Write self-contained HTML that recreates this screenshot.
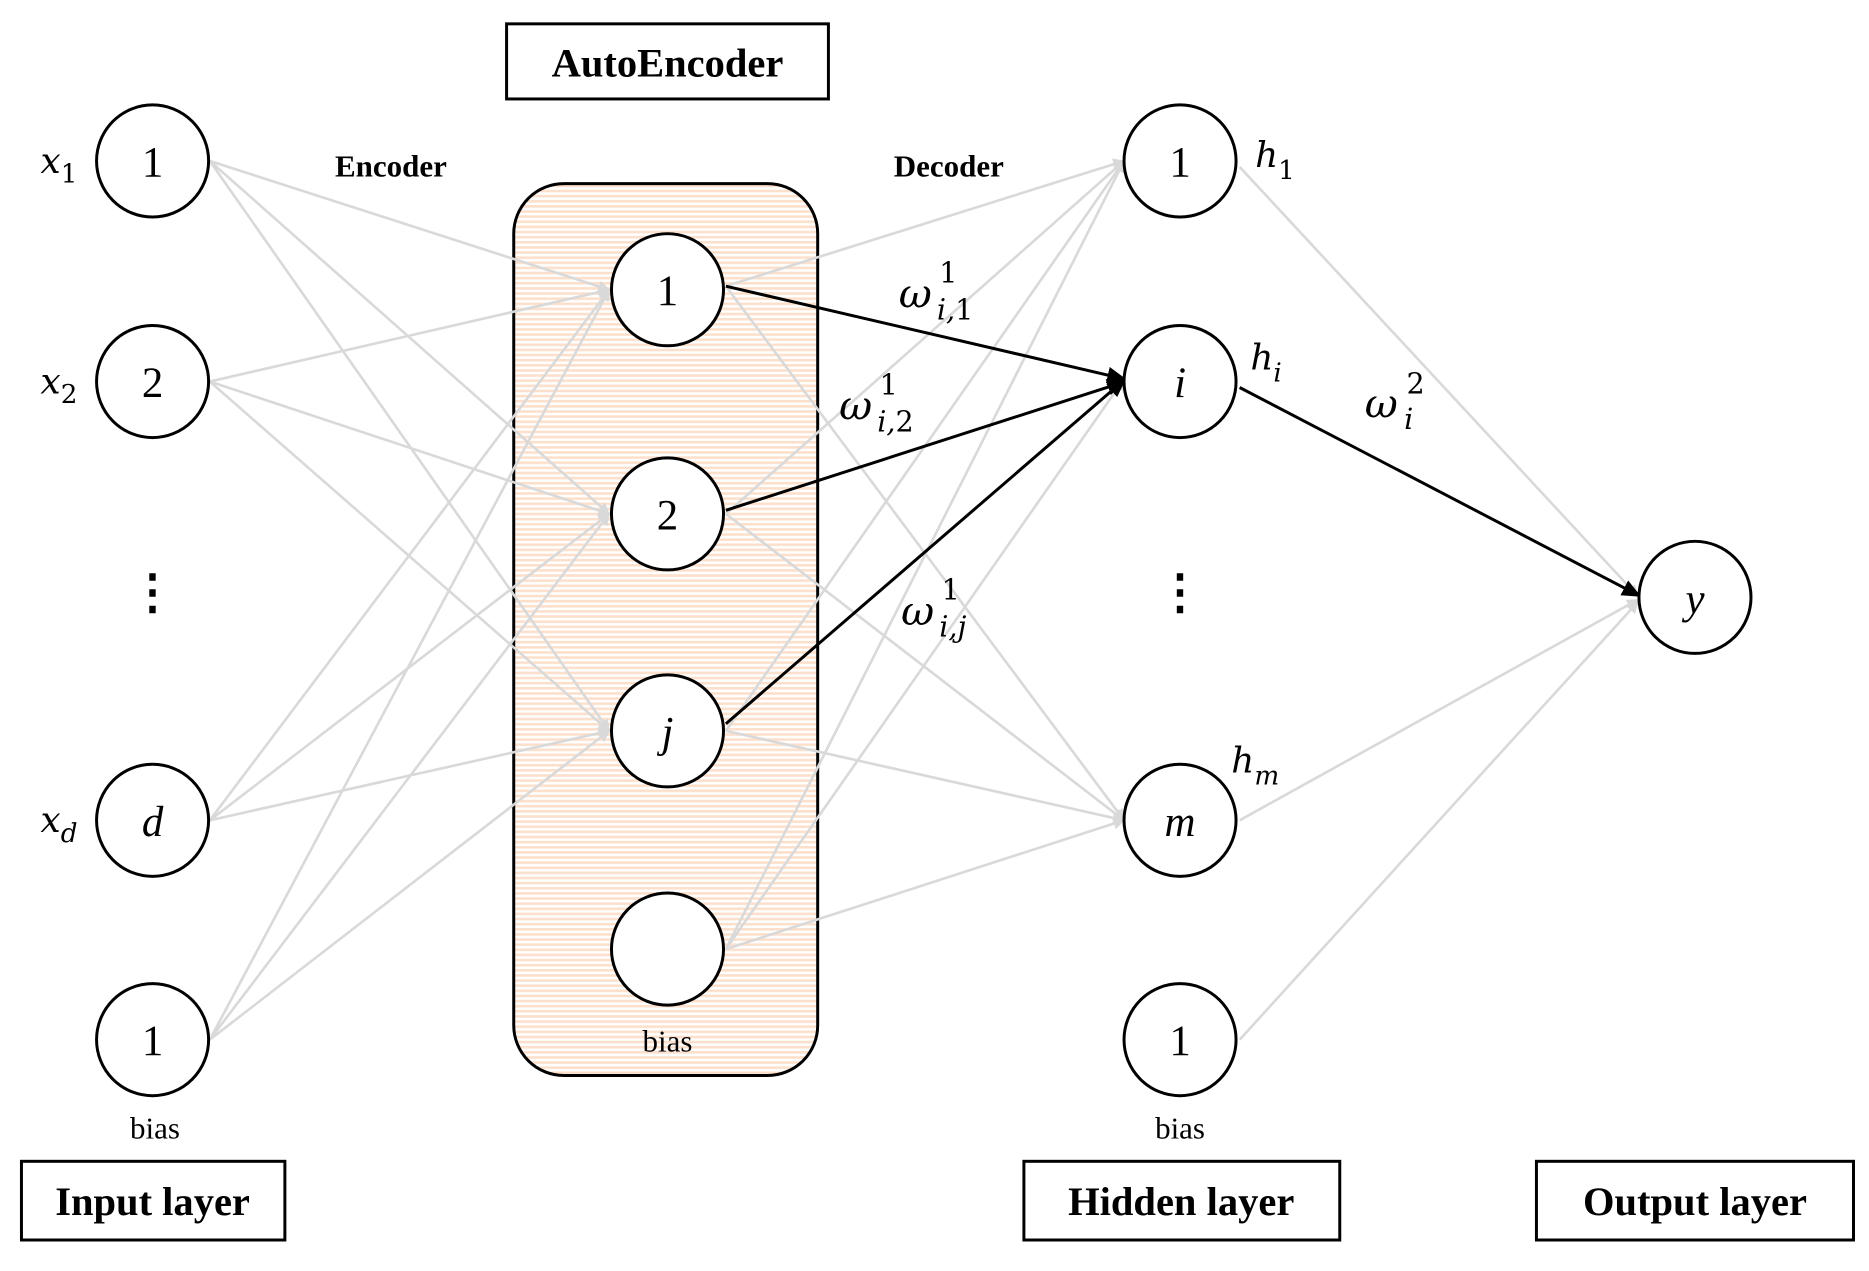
<!DOCTYPE html>
<html><head><meta charset="utf-8"><style>
html,body{margin:0;padding:0;background:#fff;}
svg{display:block;}
</style></head><body>
<svg width="1869" height="1271" viewBox="0 0 1568 1066" preserveAspectRatio="none" xmlns="http://www.w3.org/2000/svg">
<defs>
<pattern id="st" width="10" height="4.3" patternUnits="userSpaceOnUse">
<rect width="10" height="4.3" fill="#fff"/>
<rect width="10" height="2.2" fill="#fde0cc"/>
</pattern>
<marker id="ag" markerWidth="10" markerHeight="10" refX="9" refY="5" orient="auto" markerUnits="userSpaceOnUse" viewBox="0 0 10 10">
<path d="M0,0 L10,5 L0,10 z" fill="#d9d9d9"/></marker>
<marker id="ab" markerWidth="16" markerHeight="14" refX="15" refY="7" orient="auto" markerUnits="userSpaceOnUse" viewBox="0 0 16 14">
<path d="M0,0 L16,7 L0,14 z" fill="#000"/></marker>
</defs>
<rect x="431" y="154" width="255" height="748" rx="42" fill="url(#st)" stroke="#000" stroke-width="2.5"/>
<g stroke="#d9d9d9" stroke-width="2.2" fill="none">
<!-- input to AE -->
<g marker-end="url(#ag)">
<line x1="176" y1="135" x2="511" y2="243"/><line x1="176" y1="135" x2="511" y2="431"/><line x1="176" y1="135" x2="511" y2="613"/>
<line x1="176" y1="320" x2="511" y2="243"/><line x1="176" y1="320" x2="511" y2="431"/><line x1="176" y1="320" x2="511" y2="613"/>
<line x1="176" y1="688" x2="511" y2="243"/><line x1="176" y1="688" x2="511" y2="431"/><line x1="176" y1="688" x2="511" y2="613"/>
<line x1="176" y1="872" x2="511" y2="243"/><line x1="176" y1="872" x2="511" y2="431"/><line x1="176" y1="872" x2="511" y2="613"/>
<!-- AE to hidden -->
<line x1="609" y1="240" x2="943" y2="135"/><line x1="609" y1="240" x2="943" y2="688"/>
<line x1="609" y1="431" x2="943" y2="135"/><line x1="609" y1="431" x2="943" y2="688"/>
<line x1="609" y1="613" x2="943" y2="135"/><line x1="609" y1="613" x2="943" y2="688"/>
<line x1="609" y1="796" x2="943" y2="135"/><line x1="609" y1="796" x2="943" y2="688"/><line x1="609" y1="796" x2="943" y2="318"/>
<!-- hidden to y -->
<line x1="1040" y1="140" x2="1374" y2="500"/><line x1="1040" y1="688" x2="1374" y2="503"/><line x1="1040" y1="872" x2="1374" y2="505"/>
</g>
</g>
<g stroke="#000" stroke-width="2.5" fill="none">
<line x1="609" y1="240" x2="944" y2="318" marker-end="url(#ab)"/>
<line x1="609" y1="428" x2="944" y2="320" marker-end="url(#ab)"/>
<line x1="609" y1="607" x2="944" y2="318" marker-end="url(#ab)"/>
<line x1="1040" y1="325" x2="1376" y2="500" marker-end="url(#ab)"/>
</g>
<g stroke="#000" stroke-width="2.5" fill="#fff">
<circle cx="128" cy="135" r="47"/><circle cx="128" cy="320" r="47"/><circle cx="128" cy="688" r="47"/><circle cx="128" cy="872" r="47"/>
<circle cx="560" cy="243" r="47"/><circle cx="560" cy="431" r="47"/><circle cx="560" cy="613" r="47"/><circle cx="560" cy="796" r="47"/>
<circle cx="990" cy="135" r="47"/><circle cx="990" cy="320" r="47"/><circle cx="990" cy="688" r="47"/><circle cx="990" cy="872" r="47"/>
<circle cx="1422" cy="501" r="47"/>
</g>
<g font-family="Liberation Serif, serif" font-size="36" text-anchor="middle" fill="#000">
<text x="128" y="148">1</text><text x="128" y="333">2</text><text x="128" y="701" font-style="italic">d</text><text x="128" y="885">1</text>
<text x="560" y="256">1</text><text x="560" y="444">2</text><text x="560" y="626" font-style="italic">j</text>
<text x="990" y="148">1</text><text x="990" y="333" font-style="italic">i</text><text x="990" y="701" font-style="italic">m</text><text x="990" y="885">1</text>
<text x="1422" y="514" font-style="italic">y</text>
</g>
<g font-family="Liberation Serif, serif" font-size="40" text-anchor="middle" font-weight="bold">
<text x="128" y="510">⋮</text><text x="990" y="510">⋮</text>
</g>
<g font-family="Liberation Serif, serif" font-size="26" text-anchor="middle">
<text x="130" y="955">bias</text><text x="560" y="882">bias</text><text x="990" y="955">bias</text>
</g>
<g font-family="Liberation Serif, serif" font-weight="bold" text-anchor="middle">
<text x="328" y="148" font-size="26">Encoder</text><text x="796" y="148" font-size="26">Decoder</text>
</g>
<g fill="#fff" stroke="#000" stroke-width="2.5">
<rect x="425" y="20" width="270" height="63"/>
<rect x="18" y="974" width="221" height="66"/>
<rect x="859" y="974" width="265" height="66"/>
<rect x="1289" y="974" width="266" height="66"/>
</g>
<g font-family="Liberation Serif, serif" font-weight="bold" font-size="34" text-anchor="middle">
<text x="560" y="64">AutoEncoder</text>
<text x="128" y="1019">Input layer</text>
<text x="991" y="1019">Hidden layer</text>
<text x="1422" y="1019">Output layer</text>
</g>
<g font-family="DejaVu Serif, Liberation Serif, serif" font-style="italic" fill="#000">
<text x="34" y="145" font-size="30">x<tspan font-size="22" dy="8" font-style="normal">1</tspan></text>
<text x="34" y="330" font-size="30">x<tspan font-size="22" dy="8" font-style="normal">2</tspan></text>
<text x="34" y="698" font-size="30">x<tspan font-size="22" dy="8">d</tspan></text>
<text x="1053" y="140" font-size="30">h<tspan font-size="22" dy="10" font-style="normal">1</tspan></text>
<text x="1049" y="310" font-size="30">h<tspan font-size="22" dy="10">i</tspan></text>
<text x="1033" y="648" font-size="30">h<tspan font-size="22" dy="10">m</tspan></text>
<text x="754" y="258" font-size="34">ω</text><text x="788" y="237" font-size="24" font-style="normal">1</text><text x="786" y="268" font-size="24">i,<tspan font-style="normal">1</tspan></text>
<text x="704" y="352" font-size="34">ω</text><text x="738" y="331" font-size="24" font-style="normal">1</text><text x="736" y="362" font-size="24">i,<tspan font-style="normal">2</tspan></text>
<text x="756" y="524" font-size="34">ω</text><text x="790" y="503" font-size="24" font-style="normal">1</text><text x="788" y="534" font-size="24">i,j</text>
<text x="1145" y="350" font-size="34">ω</text><text x="1180" y="330" font-size="24" font-style="normal">2</text><text x="1178" y="360" font-size="24">i</text>
</g>
</svg>
</body></html>
